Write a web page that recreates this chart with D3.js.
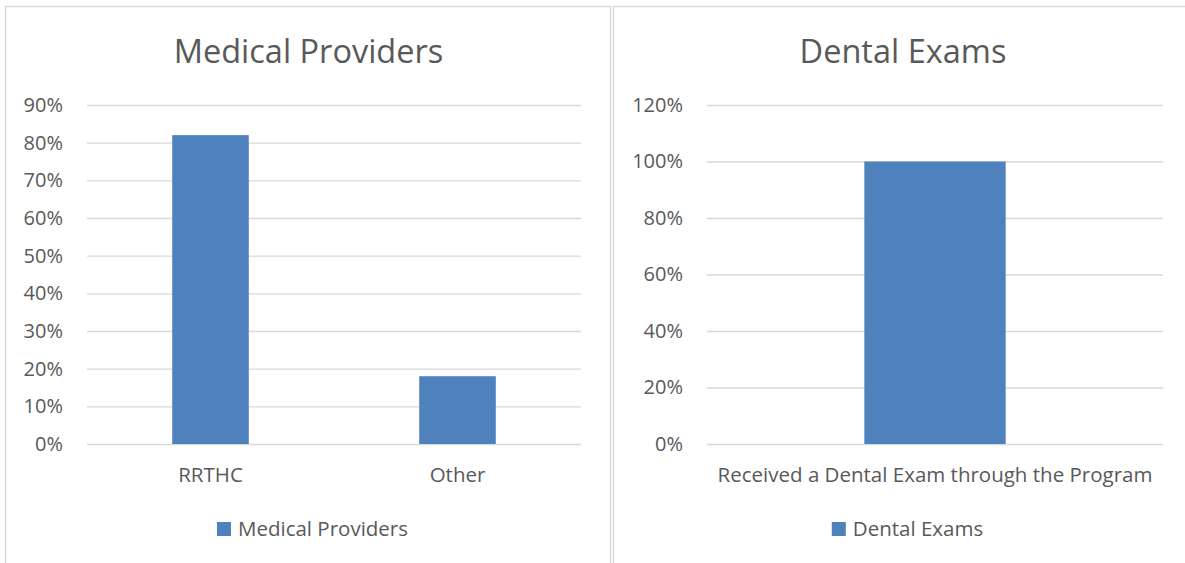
<!DOCTYPE html>
<html><head><meta charset="utf-8">
<script src="https://cdn.jsdelivr.net/npm/d3@7"></script>
<style>
html,body{margin:0;padding:0;background:#fff;}
svg{display:block;}
text{font-family:"Open Sans",sans-serif;fill:#595959;}
</style></head>
<body>
<svg id="c" width="1185" height="563"></svg>
<script>
const leftTitle = "Medical Providers";
const leftCategories = ["RRTHC", "Other"];
const leftValues = [0.82, 0.18];
const leftTicks = [0, 0.1, 0.2, 0.3, 0.4, 0.5, 0.6, 0.7, 0.8, 0.9];

const rightTitle = "Dental Exams";
const rightCategories = ["Received a Dental Exam through the Program"];
const rightValues = [1.0];
const rightTicks = [0, 0.2, 0.4, 0.6, 0.8, 1.0, 1.2];

const svg = d3.select("#c");
const barColor = "#4f81bd", gridColor = "#d9d9d9";
const FF = "'Open Sans', sans-serif";

function chart(cfg) {
  const g = svg.append("g");
  g.append("rect").attr("x", cfg.fx + 0.5).attr("y", 6.5)
    .attr("width", cfg.fw).attr("height", 600)
    .attr("fill", "none").attr("stroke", gridColor).attr("stroke-width", 1.5);
  const y = d3.scaleLinear().domain([0, d3.max(cfg.ticks)]).range([444, 105]);
  const x = d3.scaleBand().domain(cfg.cats).range([cfg.x0, cfg.x1]).paddingInner(0.69).paddingOuter(0.345);
  const ya = g.append("g").attr("transform", `translate(${cfg.x0},0)`)
    .call(d3.axisLeft(y).tickValues(cfg.ticks).tickFormat(d3.format(".0%"))
      .tickSize(-(cfg.x1 - cfg.x0)).tickPadding(24));
  ya.select(".domain").remove();
  ya.selectAll(".tick line").attr("stroke", gridColor).attr("stroke-width", 1.3);
  ya.selectAll(".tick text").attr("font-size", 20).attr("fill", "#595959").style("font-family", FF);
  g.selectAll(".bar").data(cfg.vals).join("rect")
    .attr("x", (d, i) => x(cfg.cats[i])).attr("width", x.bandwidth())
    .attr("y", d => y(d)).attr("height", d => y(0) - y(d)).attr("fill", barColor);
  const xa = g.append("g").attr("transform", `translate(0,444)`)
    .call(d3.axisBottom(x).tickSize(0).tickPadding(0));
  xa.select(".domain").remove();
  xa.selectAll(".tick text").attr("font-size", 20.5).attr("fill", "#595959")
    .attr("dy", null).attr("y", 38).style("font-family", FF);
  g.append("text").attr("x", cfg.tx).attr("y", 63).attr("text-anchor", "middle")
    .attr("font-size", 32.5).text(cfg.title);
  const lg = g.append("g");
  const lt = lg.append("text").attr("y", 536).attr("font-size", 20.5).text(cfg.title);
  const tw = lt.node().getComputedTextLength();
  const total = 14 + 7 + tw;
  const lx = cfg.lc - total / 2;
  lg.append("rect").attr("x", lx).attr("y", 522).attr("width", 14).attr("height", 14).attr("fill", barColor);
  lt.attr("x", lx + 21);
}

chart({fx: 5, fw: 605, x0: 87, x1: 581, ticks: leftTicks, cats: leftCategories, vals: leftValues,
  title: leftTitle, tx: 308.5, lc: 312.5});
chart({fx: 613, fw: 600, x0: 707, x1: 1163, ticks: rightTicks, cats: rightCategories, vals: rightValues,
  title: rightTitle, tx: 903, lc: 907.5});
</script>
</body></html>
